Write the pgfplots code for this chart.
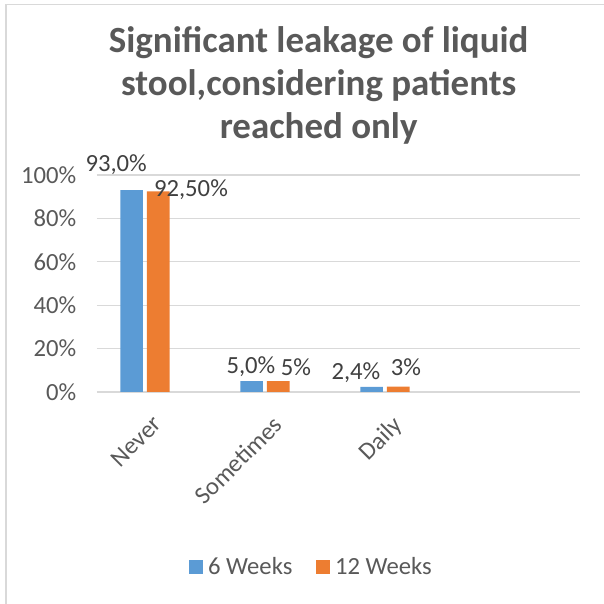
\documentclass[border=0pt]{standalone}
\usepackage{pgfplots}
\pgfplotsset{compat=1.18}
\usepackage{fontspec}
\setmainfont{Carlito}
\definecolor{txt}{HTML}{595959}
\definecolor{lab}{HTML}{404040}
\definecolor{gridc}{HTML}{D9D9D9}
\definecolor{bblue}{HTML}{5B9BD5}
\definecolor{borange}{HTML}{ED7D31}
\begin{document}
\begin{tikzpicture}[x=1pt,y=1pt]
\path[use as bounding box] (0,0) rectangle (453,453);
\draw[gridc, line width=1.2pt] (4.5,0) -- (4.5,449.5) -- (453,449.5);
\node[txt, font=\fontsize{27.7}{32}\selectfont\bfseries, align=center] at (239,389) {Significant leakage of liquid\\stool,considering patients\\reached only};
\begin{axis}[
  at={(72.75pt,159pt)}, anchor=south west, scale only axis,
  width=362.25pt, height=162.75pt,
  ybar, bar width=17pt,
  xmin=-0.4, xmax=3.625, ymin=0, ymax=100,
  ytick={0,20,...,100}, xtick={0,1,2},
  xticklabels={Never,Sometimes,Daily},
  yticklabel={\pgfmathprintnumber{\tick}\%},
  /pgf/number format/assume math mode=true,
  ymajorgrids, grid style={gridc, line width=0.9pt},
  axis x line*=bottom, axis y line*=left,
  x axis line style={gridc, line width=0.9pt, -},
  y axis line style={draw=none},
  major tick length=0pt,
  tick label style={txt, font=\fontsize{18.5}{22}\selectfont},
  yticklabel style={anchor=east, xshift=-12pt},
  xticklabel style={xshift=5pt, yshift=-12pt, rotate=45, anchor=north east},
  clip=false,
  legend style={at={(0.445,-0.806)}, anchor=center, draw=none, legend columns=2,
    font=\fontsize{18.5}{22}\selectfont, text=txt,
    /tikz/every even column/.append style={column sep=16pt},
    /tikz/every odd column/.append style={column sep=2pt}},
  legend image code/.code={\fill[#1] (0pt,-5pt) rectangle (10pt,5pt);},
]
\addplot[fill=bblue, draw=none, bar shift=-10pt] coordinates {(0,93) (1,5) (2,2.4)};
\addplot[fill=borange, draw=none, bar shift=10pt] coordinates {(0,92.5) (1,5) (2,2.5)};
\legend{6 Weeks,12 Weeks}
\begin{scope}[every node/.style={lab, font=\fontsize{18.5}{22}\selectfont}]
\node at (axis cs:-0.24,104.6) {93,0\%};
\node at (axis cs:0.383,93.1) {92,50\%};
\node at (axis cs:0.883,11.5) {5,0\%};
\node at (axis cs:1.258,11.5) {5\%};
\node at (axis cs:1.758,8.8) {2,4\%};
\node at (axis cs:2.175,11.5) {3\%};
\end{scope}
\end{axis}
\end{tikzpicture}
\end{document}
